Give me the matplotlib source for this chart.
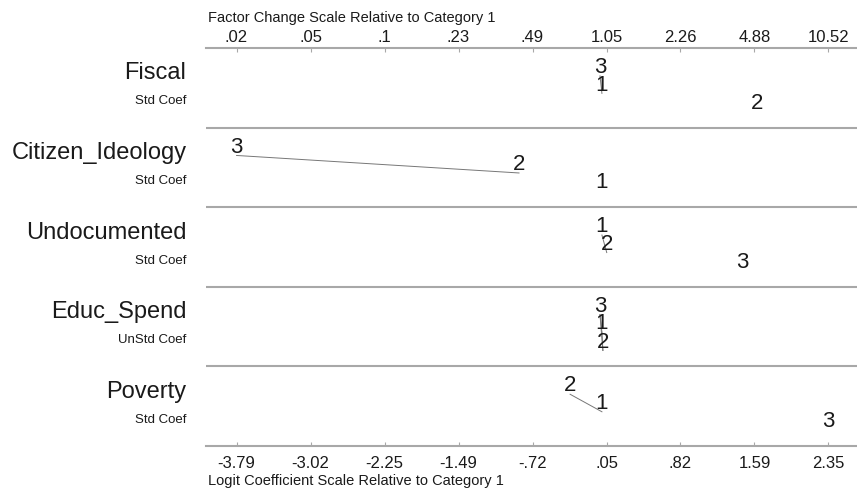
import numpy as np
import matplotlib.pyplot as plt

# ----- data -----
variables = ["Fiscal", "Citizen_Ideology", "Undocumented", "Educ_Spend", "Poverty"]
coef_types = ["Std Coef", "Std Coef", "Std Coef", "UnStd Coef", "Std Coef"]
cat1 = [0.0, 0.0, 0.0, 0.0, 0.0]
cat2 = [1.61, -0.86, 0.05, 0.01, -0.33]
cat3 = [-0.02, -3.79, 1.46, -0.02, 2.35]
# categories joined by a line (not significantly different)
links = [[(3, 1)], [(3, 2)], [(1, 2)], [(3, 1), (1, 2), (3, 2)], [(2, 1)]]

logit_labels = ["-3.79", "-3.02", "-2.25", "-1.49", "-.72", ".05", ".82", "1.59", "2.35"]
factor_labels = [".02", ".05", ".1", ".23", ".49", "1.05", "2.26", "4.88", "10.52"]

# ----- plot -----
plt.rcParams['font.family'] = ['Liberation Sans', 'DejaVu Sans']
txt = "#1a1a1a"
grey = "#a8a8a8"

fig = plt.figure(figsize=(8.57, 4.91), dpi=100)
ax = fig.add_axes([206 / 857, 45 / 491, 1 - 206 / 857, 398 / 491])
ax.set_xlim(-4.107, 2.646)
ax.set_ylim(0, 5)

tick_pos = np.linspace(min(cat3), max(cat3), 9)
ax.set_xticks(tick_pos)
ax.set_xticklabels(logit_labels)
ax.tick_params(axis="x", direction="in", length=3, color=grey, labelsize=12,
               labelcolor=txt, pad=7)
ax.set_yticks([])
for s in ["left", "right", "top"]:
    ax.spines[s].set_visible(False)
ax.spines["bottom"].set_color(grey)
ax.spines["bottom"].set_linewidth(1.5)

top = ax.secondary_xaxis("top")
top.set_xticks(tick_pos)
top.set_xticklabels(factor_labels)
top.tick_params(direction="in", length=3, color=grey, labelsize=12,
                labelcolor=txt, pad=2)
top.spines["top"].set_color(grey)
top.spines["top"].set_linewidth(1.5)

for yl in [1, 2, 3, 4]:
    ax.axhline(yl, color=grey, lw=1.5)

levels = [0.35, 0.57, 0.80]
for i, var in enumerate(variables):
    ptop = 5 - i
    vals = {1: cat1[i], 2: cat2[i], 3: cat3[i]}
    order = sorted(vals, key=lambda k: vals[k])
    ypos = {k: ptop - levels[j] for j, k in enumerate(order)}
    for a, b in links[i]:
        ax.plot([vals[a], vals[b]], [ypos[a], ypos[b]], color="#777777", lw=0.7)
    for k in order:
        ax.annotate(str(k), (vals[k], ypos[k]), xytext=(0, 6), textcoords="offset points",
                    ha="center", va="center", fontsize=16, color=txt)
    ax.text(-0.03, ptop - 0.32, var, transform=ax.get_yaxis_transform(),
            ha="right", va="center", fontsize=17, color=txt)
    ax.text(-0.03, ptop - 0.67, coef_types[i], transform=ax.get_yaxis_transform(),
            ha="right", va="center", fontsize=9.5, color=txt,
            family=["Liberation Sans Narrow", "Liberation Sans"])

fig.text(208 / 857, 1 - 18 / 491, "Factor Change Scale Relative to Category 1",
         ha="left", va="center", fontsize=10.5, color=txt)
fig.text(208 / 857, 1 - 481 / 491, "Logit Coefficient Scale Relative to Category 1",
         ha="left", va="center", fontsize=10.5, color=txt)

fig.savefig("out.png", dpi=100)
